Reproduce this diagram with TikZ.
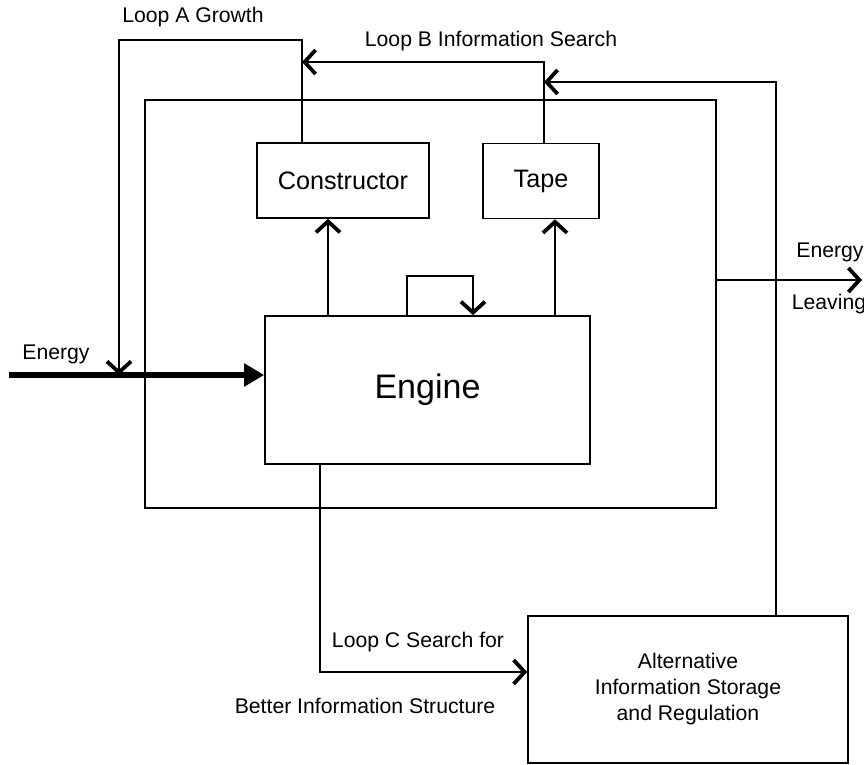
\documentclass[tikz,border=0pt]{standalone}
\usepackage{fontspec}
\setmainfont{Liberation Sans}
\usetikzlibrary{arrows.meta, positioning}

\begin{document}
\begin{tikzpicture}[x=0.5pt, y=-0.5pt,
  box/.style={draw, line width=0.8pt, inner sep=0pt},
  wire/.style={line width=0.8pt},
  barb/.style={wire, -{Straight Barb[length=5.5pt, width=12pt, line width=1.9pt]}},
  feed/.style={line width=2.6pt, -{Triangle[length=10pt, width=11pt]}},
  lbl/.style={font=\fontsize{10.6}{13}\selectfont},
  unit/.style={box, font=\fontsize{12.6}{15}\selectfont}
]
  \useasboundingbox (0,0) rectangle (864,765);
  % boxes
  \node[box, minimum width=285.5pt, minimum height=204pt] (cell) at (430.5,304) {};
  \node[unit, minimum width=86pt, minimum height=37.5pt] (ctor) at (343,180.5) {Constructor};
  \node[unit, minimum width=58pt, minimum height=37.5pt] (tape) at (541,181) {Tape};
  \node[box, minimum width=162.5pt, minimum height=74pt,
    font=\fontsize{17}{20}\selectfont] (engine) at (427.5,390) {Engine};
  \node[box, lbl, align=center, minimum width=160pt, minimum height=73.5pt] (alt)
    at (688,689.5) {Alternative\\Information Storage\\and Regulation};
  % labels
  \node[lbl] (loopA) at (193,17) {Loop A Growth};
  \node[lbl] (loopB) at (491,41) {Loop B Information Search};
  \node[lbl] (enLbl) at (56,354) {Energy};
  \node[lbl] (outLbl) at (830,252) {Energy};
  \node[lbl] (leaveLbl) at (829,304) {Leaving};
  \node[lbl] (loopC) at (418,642) {Loop C Search for};
  \node[lbl] (loopCb) at (365,706) {Better Information Structure};
  % connector points
  \coordinate (enIn) at (9,375);
  \coordinate (aCorner) at (119,40);
  \coordinate (aLeave) at ([xshift=-20.5pt]ctor.north);
  \coordinate (bLevel) at (0,62);
  \coordinate (dLevel) at (0,82);
  \coordinate (outLevel) at (0,280);
  \coordinate (outEnd) at (862,280);
  \coordinate (cLevel) at (0,672);
  \coordinate (tapeOut) at ([xshift=1.5pt]tape.north);
  \coordinate (tapeIn) at ([xshift=7pt]tape.south);
  \coordinate (ctorIn) at ([xshift=-7.5pt]ctor.south);
  % energy in
  \draw[feed] (enIn) -- (enIn -| engine.west);
  % loop A
  \draw[barb] (aLeave) |- (aCorner) -- (aCorner |- enIn);
  % loop B
  \draw[barb] (tapeOut) |- (aLeave |- bLevel);
  % engine outputs
  \draw[barb] (ctorIn |- engine.north) -- (ctorIn);
  \draw[barb] (tapeIn |- engine.north) -- (tapeIn);
  \draw[barb] ([xshift=-10.25pt]engine.north) -- ++(0,-39)
    -| ([xshift=22.75pt]engine.north);
  % energy leaving
  \draw[barb] (cell.east |- outLevel) -- (outEnd);
  % loop C
  \draw[barb] ([xshift=-53.75pt]engine.south) |- (alt.west |- cLevel);
  \draw[barb] ([xshift=44pt]alt.north) |- (tapeOut |- dLevel);
\end{tikzpicture}
\end{document}
